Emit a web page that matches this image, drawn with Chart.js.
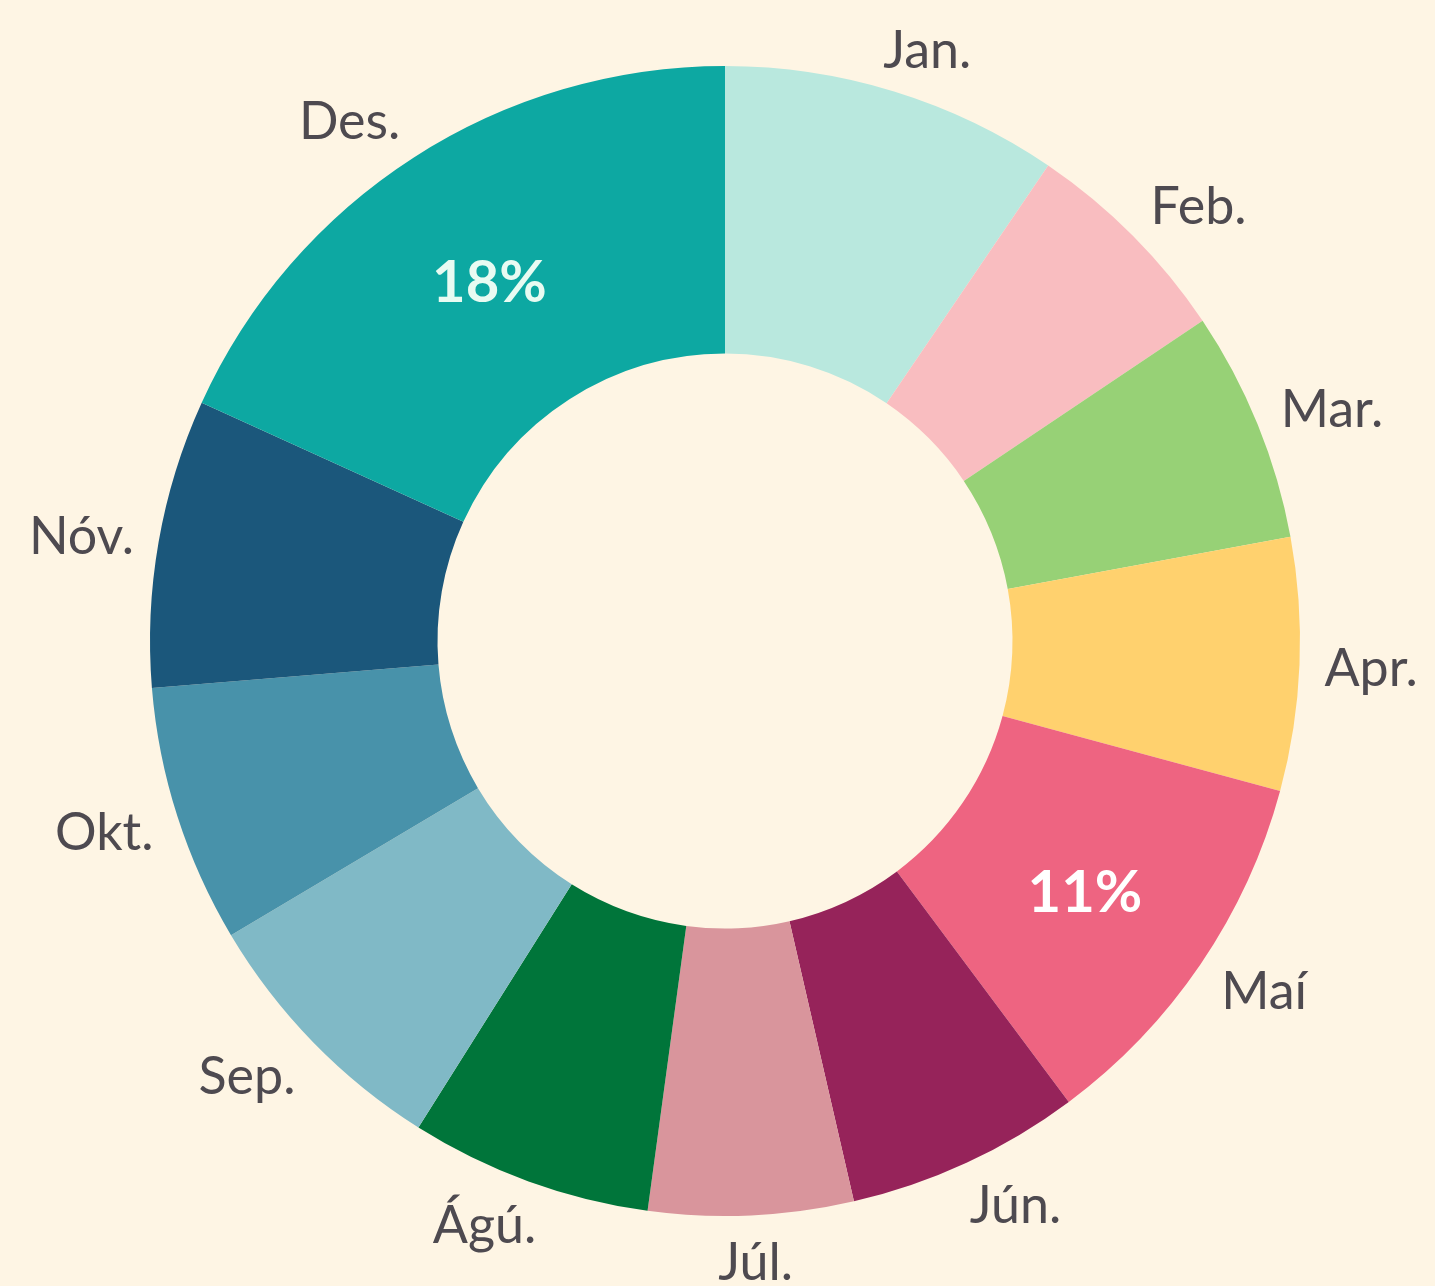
<!DOCTYPE html>
<html>
<head>
<meta charset="utf-8">
<script src="https://cdn.jsdelivr.net/npm/chart.js@4/dist/chart.umd.min.js"></script>
<style>
  html, body { margin: 0; padding: 0; background: #FEF5E4; }
  #wrap { width: 1435px; height: 1286px; }
</style>
</head>
<body>
<div id="wrap"><canvas id="c" width="1435" height="1286"></canvas></div>
<script>
// Monthly shares (%)
const months = ['Jan.', 'Feb.', 'Mar.', 'Apr.', 'Maí', 'Jún.', 'Júl.', 'Ágú.', 'Sep.', 'Okt.', 'Nóv.', 'Des.'];
const shares = [9.5, 6.1, 6.5, 7.1, 10.6, 6.6, 5.75, 6.8, 7.5, 7.25, 8.1, 18.2];
const percentLabels = ['', '', '', '', '11%', '', '', '', '', '', '', '18%'];
const sliceColors = ['#B9E8DE', '#F9BDC0', '#97D176', '#FFD16E', '#EE6481', '#96235A',
                     '#D9959C', '#00753A', '#80B9C6', '#4892AA', '#1B577B', '#0DA8A2'];
const percentColors = ['#FFFFFF', '#FFFFFF', '#FFFFFF', '#FFFFFF', '#FFFFFF', '#FFFFFF',
                       '#FFFFFF', '#FFFFFF', '#FFFFFF', '#FFFFFF', '#FFFFFF', '#E8FBF2'];

const FONT = 'Lato, "Open Sans", sans-serif';

// Month names outside the ring and highlighted shares inside it
const sliceLabels = {
  id: 'sliceLabels',
  afterDatasetsDraw(chart) {
    const ctx = chart.ctx;
    const meta = chart.getDatasetMeta(0);
    ctx.save();
    ctx.textAlign = 'center';
    ctx.textBaseline = 'middle';
    meta.data.forEach((arc, i) => {
      const p = arc.getProps(['x', 'y', 'startAngle', 'endAngle', 'outerRadius', 'innerRadius'], true);
      const mid = (p.startAngle + p.endAngle) / 2;
      const cx = Math.cos(mid), sy = Math.sin(mid);

      // month name: anchored just outside the ring, text box hung away from the centre
      ctx.font = '400 52px ' + FONT;
      const w = ctx.measureText(months[i]).width;
      const h = 40;
      const ra = p.outerRadius + 25;
      const ax = p.x + cx * ra, ay = p.y + sy * ra;
      const side = Math.max(-1, Math.min(1, cx * 2));
      ctx.fillStyle = '#4E4A50';
      ctx.fillText(months[i], ax + side * w / 2, ay + sy * h / 2 + 3);

      if (percentLabels[i]) {
        const rm = (p.outerRadius + p.innerRadius) / 2 + 4;
        ctx.font = '700 58px ' + FONT;
        ctx.fillStyle = percentColors[i];
        ctx.fillText(percentLabels[i], p.x + cx * rm, p.y + sy * rm + 8);
      }
    });
    ctx.restore();
  }
};

new Chart(document.getElementById('c'), {
  type: 'doughnut',
  data: {
    labels: months,
    datasets: [{
      data: shares,
      backgroundColor: sliceColors,
      borderWidth: 0,
      hoverOffset: 0
    }]
  },
  options: {
    responsive: false,
    animation: false,
    cutout: '50%',
    layout: { padding: { left: 70, right: 55, top: 66, bottom: 70 } },
    plugins: {
      legend: { display: false },
      tooltip: { enabled: false }
    }
  },
  plugins: [sliceLabels]
});
</script>
</body>
</html>
